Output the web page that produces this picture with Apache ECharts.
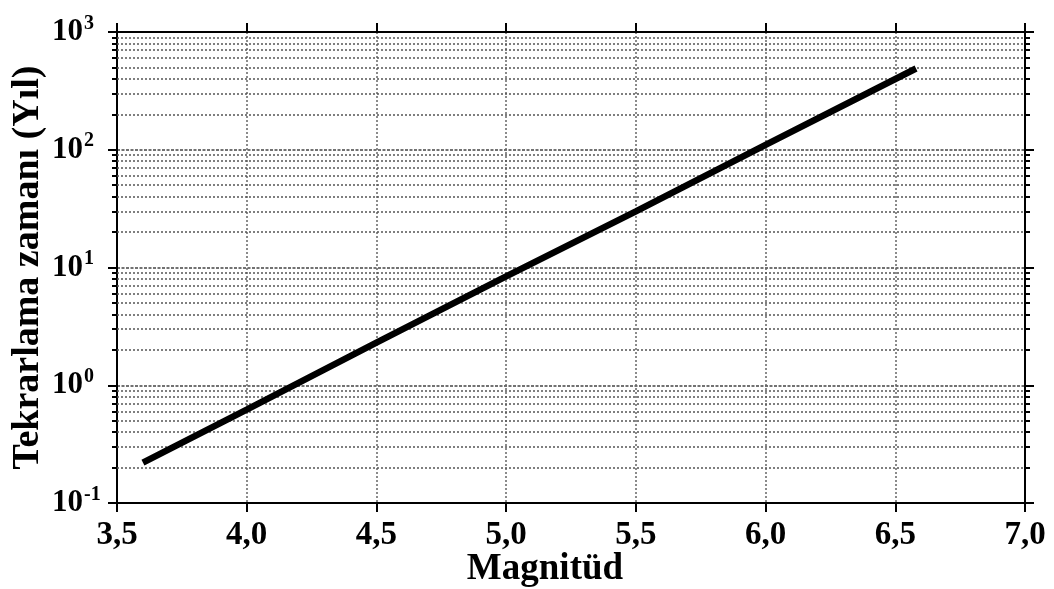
<!DOCTYPE html>
<html>
<head>
<meta charset="utf-8">
<script src="https://cdn.jsdelivr.net/npm/echarts@6/dist/echarts.min.js"></script>
<style>html,body{margin:0;padding:0;background:#fff;}#c{width:1054px;height:589px;}</style>
</head>
<body>
<div id="c"></div>
<script>
// Data
var magnitudes = [3.6, 4.0, 4.5, 5.0, 5.5, 6.0, 6.58];
var returnPeriods = [0.22, 0.62, 2.3, 8.4, 30, 110, 490];
var xTickLabels = ['3,5', '4,0', '4,5', '5,0', '5,5', '6,0', '6,5', '7,0'];
var decades = [0.1, 1, 10, 100, 1000];
var minorMultipliers = [2, 3, 4, 5, 6, 7, 8, 9];

var minorValues = [];
decades.slice(0, 4).forEach(function (d) {
  minorMultipliers.forEach(function (m) { minorValues.push(+(m * d).toPrecision(3)); });
});

var FONT = '"Liberation Serif", "DejaVu Serif", serif';
var lineData = magnitudes.map(function (m, i) { return [m, returnPeriods[i]]; });

function yAxisBase(pos, tickValues, tickLen) {
  return {
    type: 'log', logBase: 10, min: 0.1, max: 1000, position: pos,
    axisLine: { show: true, onZero: false, lineStyle: { color: '#000', width: 2 } },
    axisTick: tickValues ? { show: true, customValues: tickValues, length: tickLen, lineStyle: { color: '#000', width: 2 } }
                         : { show: true, length: tickLen, lineStyle: { color: '#000', width: 2 } },
    axisLabel: { show: false },
    splitLine: { show: false }
  };
}

var yMain = yAxisBase('left', null, 9);
yMain.axisLabel = {
  show: true, align: 'left', margin: 65,
  formatter: function (v) {
    var e = Math.round(Math.log10(v));
    return '{b|10}{s|' + e + '}';
  },
  rich: {
    b: { fontFamily: FONT, fontWeight: 'bold', fontSize: 31, color: '#000' },
    s: { fontFamily: FONT, fontWeight: 'bold', fontSize: 20, color: '#000', padding: [0, 0, 17, 1] }
  }
};
yMain.splitLine = { show: true, lineStyle: { color: '#444', width: 1.5, type: [3, 1.5] } };
yMain.name = 'Tekrarlama zamanı (Yıl)';
yMain.nameLocation = 'middle';
yMain.nameGap = 70;
yMain.nameMoveOverlap = false;
yMain.nameTextStyle = { fontFamily: FONT, fontWeight: 'bold', fontSize: 38, color: '#000' };

var option = {
  backgroundColor: '#fff',
  animation: false,
  grid: { left: 117, right: 29, top: 32, bottom: 86, containLabel: false, outerBoundsMode: 'none' },
  xAxis: [
    {
      type: 'value', min: 3.5, max: 7.0, interval: 0.5, position: 'bottom',
      axisLine: { show: true, onZero: false, lineStyle: { color: '#000', width: 2 } },
      axisTick: { show: true, length: 9, lineStyle: { color: '#000', width: 2 } },
      axisLabel: {
        margin: 16, fontFamily: FONT, fontWeight: 'bold', fontSize: 33, color: '#000',
        formatter: function (v) { return xTickLabels[Math.round((v - 3.5) / 0.5)]; }
      },
      splitLine: { show: true, lineStyle: { color: '#666', width: 1.5, type: [2, 2] } },
      name: 'Magnitüd', nameLocation: 'middle', nameGap: 48, nameMoveOverlap: false,
      nameTextStyle: { fontFamily: FONT, fontWeight: 'bold', fontSize: 37, color: '#000', padding: [0, 52, 0, 0] }
    },
    {
      type: 'value', min: 3.5, max: 7.0, interval: 0.5, position: 'top',
      axisLine: { show: true, onZero: false, lineStyle: { color: '#000', width: 2 } },
      axisTick: { show: true, length: 9, lineStyle: { color: '#000', width: 2 } },
      axisLabel: { show: false },
      splitLine: { show: false }
    }
  ],
  yAxis: [
    yMain,
    yAxisBase('right', null, 9),
    yAxisBase('left', minorValues, 5),
    yAxisBase('right', minorValues, 5)
  ],
  series: [
    {
      type: 'line', xAxisIndex: 0, yAxisIndex: 0, data: lineData,
      symbol: 'none', smooth: false,
      lineStyle: { color: '#000', width: 6.5 },
      markLine: {
        silent: true, symbol: 'none', label: { show: false },
        lineStyle: { color: '#555', width: 1.5, type: [2, 2] },
        data: minorValues.map(function (v) { return { yAxis: v }; })
      },
      z: 5
    }
  ]
};

var chart = echarts.init(document.getElementById('c'), null, { renderer: 'canvas' });
chart.setOption(option);
</script>
</body>
</html>
